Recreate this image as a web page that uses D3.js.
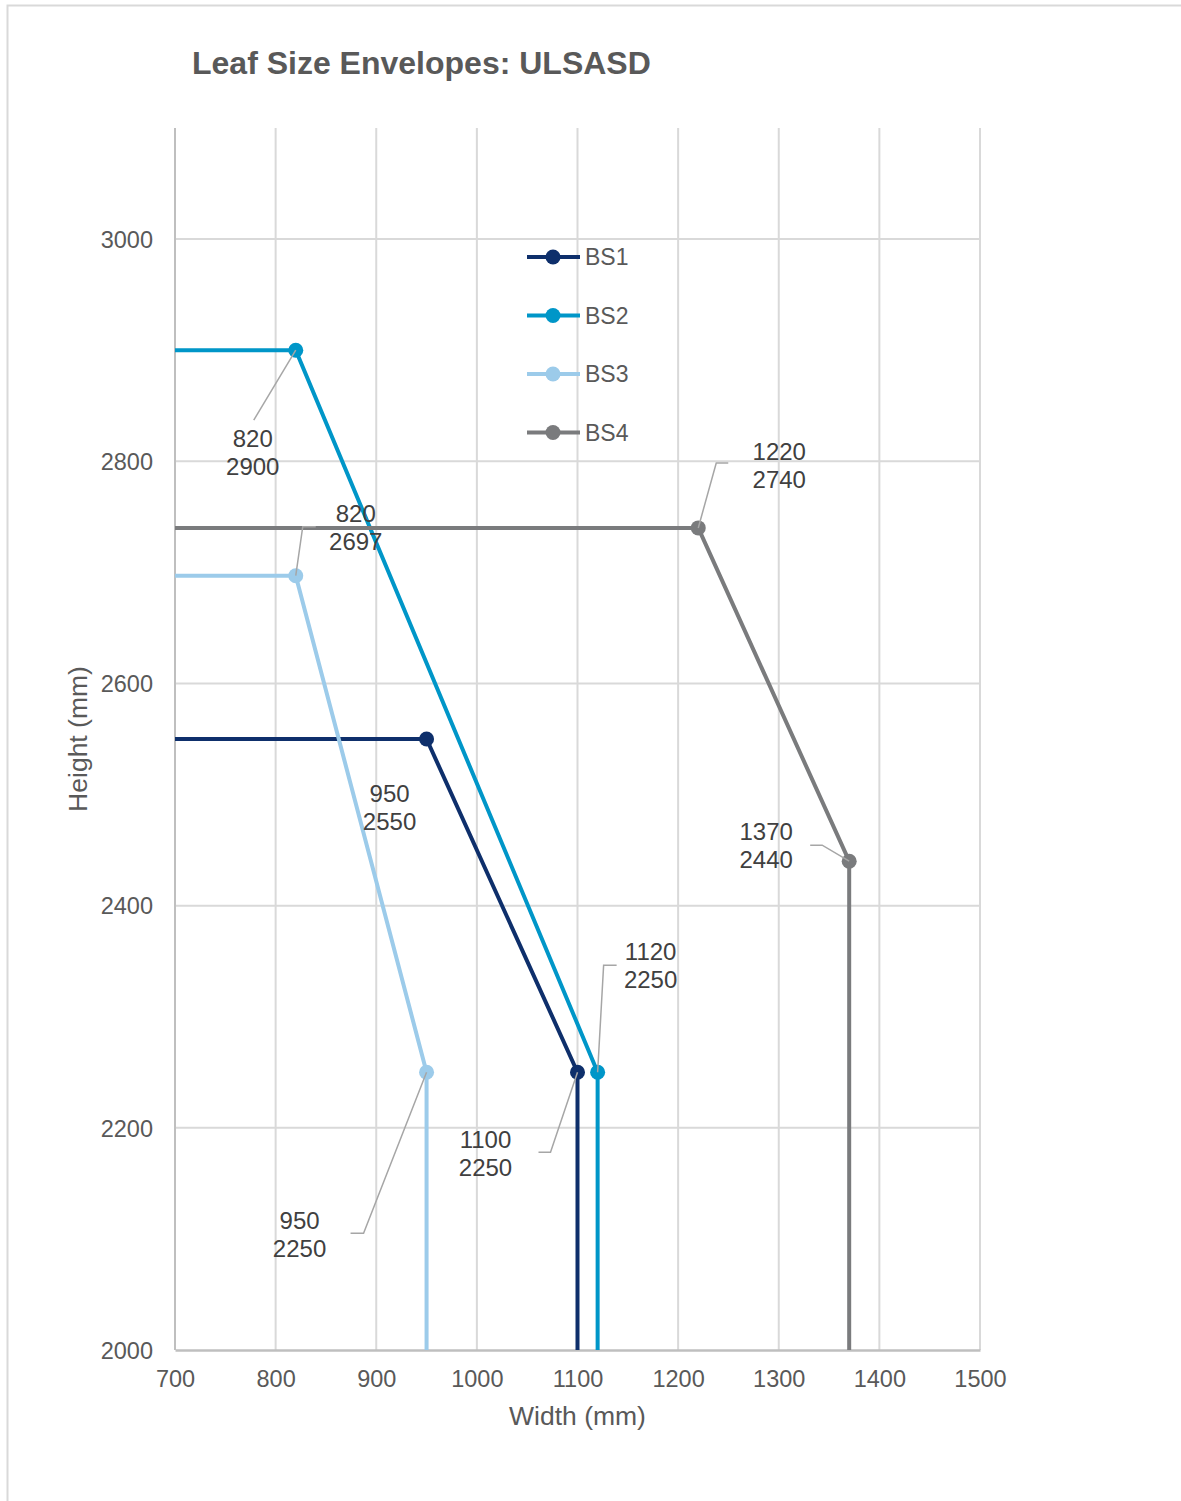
<!DOCTYPE html>
<html>
<head>
<meta charset="utf-8">
<script src="https://cdn.jsdelivr.net/npm/d3@7"></script>
<style>
  html, body { margin: 0; padding: 0; background: #fff; }
  svg { display: block; font-family: "Liberation Sans", Arial, sans-serif; }
</style>
</head>
<body>
<svg id="chart" width="1181" height="1501"></svg>
<script>
// Envelope series: each is a polyline of [width, height] points (mm)
const seriesNames = ["BS1", "BS2", "BS3", "BS4"];
const seriesColors = ["#0e2f6b", "#0096c8", "#9ccbea", "#7a7b7d"];
const bs1 = [[700, 2550], [950, 2550], [1100, 2250], [1100, 2000]];
const bs2 = [[700, 2900], [820, 2900], [1120, 2250], [1120, 2000]];
const bs3 = [[700, 2697], [820, 2697], [950, 2250], [950, 2000]];
const bs4 = [[700, 2740], [1220, 2740], [1370, 2440], [1370, 2000]];
const seriesPoints = [bs1, bs2, bs3, bs4];
// indices of points that carry a marker and a data label
const markedIdx = [1, 2];

const xTicks = [700, 800, 900, 1000, 1100, 1200, 1300, 1400, 1500];
const yTicks = [2000, 2200, 2400, 2600, 2800, 3000];

// label placement relative to its point: label centre offset, then leader elbow
// [seriesIndex, pointIndex, dx, dy, elbowDx, elbowDy, endDx, straightLeader]
const labelLayout = [
  [1, 1, -43, 102, null, null, null, [-42, 70]],
  [2, 1, 60, -49, 7, -49, 20],
  [0, 1, -37, 68, null, null, null],
  [3, 1, 81, -63, 18, -65, 30],
  [3, 2, -83, -16, -27, -16, -39],
  [1, 2, 53, -107, 6, -107, 19],
  [0, 2, -92, 81, -27, 80, -39],
  [2, 2, -127, 162, -63, 161, -76]
];

const FONT = "'Liberation Sans', Arial, sans-serif";
const svg = d3.select("#chart");

// outer frame
svg.append("rect")
  .attr("x", 7.5).attr("y", 5.5)
  .attr("width", 1200).attr("height", 1520)
  .attr("fill", "none").attr("stroke", "#d9d9d9").attr("stroke-width", 2);

const x = d3.scaleLinear().domain([700, 1500]).range([175, 980]);
const y = d3.scaleLinear().domain([2000, 3100]).range([1350, 128]);

// title
svg.append("text")
  .attr("x", 192).attr("y", 74)
  .attr("font-size", 32).attr("font-weight", "bold")
  .attr("fill", "#595959")
  .text("Leaf Size Envelopes: ULSASD");

// gridlines
const grid = svg.append("g");
grid.selectAll("line.v").data(xTicks.slice(1)).enter().append("line")
  .attr("x1", d => x(d)).attr("x2", d => x(d))
  .attr("y1", y(3100)).attr("y2", y(2000))
  .attr("stroke", "#d9d9d9").attr("stroke-width", 2);
grid.selectAll("line.h").data(yTicks.slice(1)).enter().append("line")
  .attr("x1", x(700)).attr("x2", x(1500))
  .attr("y1", d => y(d)).attr("y2", d => y(d))
  .attr("stroke", "#d9d9d9").attr("stroke-width", 2);

// axes
const fmt = d3.format("d");
const xAxis = d3.axisBottom(x).tickValues(xTicks).tickFormat(fmt).tickSize(0).tickPadding(20);
const yAxis = d3.axisLeft(y).tickValues(yTicks).tickFormat(fmt).tickSize(0).tickPadding(22);

const gx = svg.append("g").attr("transform", `translate(0,${y(2000)})`).call(xAxis);
const gy = svg.append("g").attr("transform", `translate(${x(700)},0)`).call(yAxis);
gy.select(".domain").attr("stroke", "#bfbfbf").attr("stroke-width", 2).attr("d", `M0,${y(3100)}V${y(2000)}`);
gx.select(".domain").attr("stroke", "#bfbfbf").attr("stroke-width", 2.5);
[gx, gy].forEach(g => g.attr("font-family", FONT).attr("font-size", 23.5)
  .selectAll("text").attr("fill", "#595959"));
gy.selectAll("text").attr("dy", "0.35em");

// axis titles
svg.append("text")
  .attr("x", (x(700) + x(1500)) / 2 + 0).attr("y", 1425)
  .attr("text-anchor", "middle").attr("font-size", 26.5).attr("fill", "#595959")
  .text("Width (mm)");
svg.append("text")
  .attr("transform", `translate(87,${(y(2000) + y(3100)) / 2}) rotate(-90)`)
  .attr("text-anchor", "middle").attr("font-size", 26.5).attr("fill", "#595959")
  .text("Height (mm)");

// series lines
const line = d3.line().x(d => x(d[0])).y(d => y(d[1]));
const seriesG = svg.append("g");
seriesPoints.forEach((pts, i) => {
  seriesG.append("path")
    .attr("d", line(pts))
    .attr("fill", "none")
    .attr("stroke", seriesColors[i])
    .attr("stroke-width", 4)
    .attr("stroke-linejoin", "round");
});
seriesPoints.forEach((pts, i) => {
  markedIdx.forEach(k => {
    seriesG.append("circle")
      .attr("cx", x(pts[k][0])).attr("cy", y(pts[k][1]))
      .attr("r", 7.5).attr("fill", seriesColors[i]);
  });
});

// data labels with leader lines
const labels = svg.append("g");
labelLayout.forEach(([si, pi, dx, dy, ex, ey, endDx, straight]) => {
  const p = seriesPoints[si][pi];
  const px = x(p[0]), py = y(p[1]);
  if (ex !== null) {
    labels.append("polyline")
      .attr("points", `${px},${py} ${px + ex},${py + ey} ${px + endDx},${py + ey}`)
      .attr("fill", "none").attr("stroke", "#a6a6a6").attr("stroke-width", 1.5);
  } else if (straight) {
    labels.append("line")
      .attr("x1", px).attr("y1", py)
      .attr("x2", px + straight[0]).attr("y2", py + straight[1])
      .attr("stroke", "#a6a6a6").attr("stroke-width", 1.5);
  }
  const t = labels.append("text")
    .attr("text-anchor", "middle")
    .attr("font-size", 24).attr("fill", "#404040");
  t.append("tspan").attr("x", px + dx).attr("y", py + dy - 5).text(p[0]);
  t.append("tspan").attr("x", px + dx).attr("y", py + dy + 23).text(p[1]);
});

// legend
const legend = svg.append("g");
seriesNames.forEach((name, i) => {
  const ly = 257 + i * 58.5;
  legend.append("line")
    .attr("x1", 527).attr("x2", 580).attr("y1", ly).attr("y2", ly)
    .attr("stroke", seriesColors[i]).attr("stroke-width", 4);
  legend.append("circle").attr("cx", 553).attr("cy", ly).attr("r", 7.5)
    .attr("fill", seriesColors[i]);
  legend.append("text")
    .attr("x", 585).attr("y", ly).attr("dy", "0.35em")
    .attr("font-size", 23).attr("fill", "#595959")
    .text(name);
});
</script>
</body>
</html>
